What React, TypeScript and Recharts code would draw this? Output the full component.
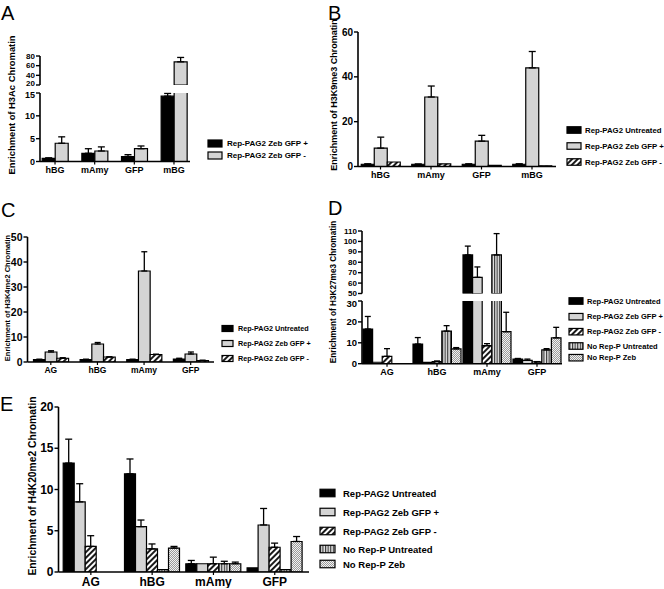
import React from "react";
import { Bar, BarChart, ErrorBar, XAxis, YAxis } from "recharts";

// Five-panel ChIP enrichment figure (A–E). Broken axes (A, D) are two stacked BarCharts sharing one x scale.

const FONT = '"Liberation Sans", Arial, Helvetica, sans-serif';

const BLACK = "#000000";
const GRAY = "#d4d4d4";
const HATCH = "url(#hatch)";
const VSTRIPE = "url(#vstripe)";
const CHECK = "url(#check)";

const SERIES_3 = ["Rep-PAG2 Untreated", "Rep-PAG2 Zeb GFP +", "Rep-PAG2 Zeb GFP -"];
const SERIES_5 = [...SERIES_3, "No Rep-P Untreated", "No Rep-P Zeb"];
const FILLS_3 = [BLACK, GRAY, HATCH];
const FILLS_5 = [BLACK, GRAY, HATCH, VSTRIPE, CHECK];

// A — H3Ac
const seriesA = ["Rep-PAG2 Zeb GFP +", "Rep-PAG2 Zeb GFP -"];
const catsA = ["hBG", "mAmy", "GFP", "mBG"];
const valsA = [
  [0.7, 1.8, 1.1, 14.3],
  [4.0, 2.3, 2.8, 68],
];
const errsA = [
  [0.1, 1.0, 0.4, 0.6],
  [1.4, 0.9, 0.6, 9],
];

// B — H3K9me3
const catsB = ["hBG", "mAmy", "GFP", "mBG"];
const valsB = [
  [1.0, 1.0, 1.0, 1.0],
  [8.2, 31, 11.3, 44],
  [2.0, 1.2, 0.5, 0.3],
];
const errsB = [
  [0.2, 0.1, 0.2, 0.2],
  [4.9, 4.9, 2.6, 7.3],
  [0, 0, 0, 0],
];

// C — H3K4me2
const catsC = ["AG", "hBG", "mAmy", "GFP"];
const valsC = [
  [1.0, 1.0, 1.0, 1.2],
  [4.0, 7.2, 36.4, 3.2],
  [1.5, 2.0, 3.0, 0.6],
];
const errsC = [
  [0.1, 0.1, 0.1, 0.3],
  [0.5, 0.6, 7.7, 0.8],
  [0.2, 0.1, 0.1, 0.1],
];

// D — H3K27me3
const catsD = ["AG", "hBG", "mAmy", "GFP"];
const valsD = [
  [16.6, 9.4, 87, 2.2],
  [0.7, 0.6, 65.5, 1.6],
  [3.5, 1.0, 8.6, 0.9],
  [0, 15.6, 87, 6.6],
  [0, 7.1, 15.3, 12.4],
];
const errsD = [
  [6.0, 3.1, 8.5, 0.3],
  [0, 0, 10, 0.6],
  [3.7, 0.3, 1.0, 0.1],
  [0, 2.6, 20.5, 0.6],
  [0, 0.6, 9.3, 5.0],
];

// E — H4K20me2
const catsE = ["AG", "hBG", "mAmy", "GFP"];
const valsE = [
  [13.2, 11.9, 1.0, 0.5],
  [8.5, 5.5, 1.0, 5.7],
  [3.1, 2.8, 1.0, 3.0],
  [0, 0.3, 1.0, 0.3],
  [0, 2.9, 1.0, 3.7],
];
const errsE = [
  [2.9, 1.8, 0.4, 0],
  [2.2, 0.8, 0, 2.0],
  [1.3, 0.6, 0.8, 0.5],
  [0, 0, 0.3, 0],
  [0, 0.2, 0.2, 0.6],
];

type Seg = {
  domain: [number, number];
  ticks: number[];
  yTop: number;
  yBottom: number;
  tickFont: number;
  // nudges edge tick labels apart at an axis break
  shift?: Record<number, number>;
};

interface PanelCfg {
  left: number;
  axisX: number;
  axisEnd: number;
  padL: number;
  padR: number;
  barSize: number;
  capHalf: number;
  catFont: number;
  xAxisH: number;
  cats: string[];
  series: string[];
  fills: string[];
  vals: number[][];
  errs: number[][];
  segs: Seg[]; // first one is the bottom segment (carries the x axis)
}

const panels: PanelCfg[] = [
  {
    left: 18, axisX: 40, axisEnd: 190, padL: -4.8, padR: -3.8, barSize: 13, capHalf: 3.5,
    catFont: 9, xAxisH: 20,
    cats: catsA, series: seriesA, fills: [BLACK, GRAY], vals: valsA, errs: errsA,
    segs: [
      { domain: [0, 15], ticks: [0, 5, 10, 15], yTop: 92.5, yBottom: 161, tickFont: 9, shift: { 15: 1.5 } },
      { domain: [20, 80], ticks: [20, 40, 60, 80], yTop: 55.5, yBottom: 84.5, tickFont: 8, shift: { 20: -1.5 } },
    ],
  },
  {
    left: 336, axisX: 358, axisEnd: 556, padL: -2.75, padR: -1.25, barSize: 13, capHalf: 3.5,
    catFont: 9, xAxisH: 20,
    cats: catsB, series: SERIES_3, fills: FILLS_3, vals: valsB, errs: errsB,
    segs: [{ domain: [0, 60], ticks: [0, 20, 40, 60], yTop: 31.5, yBottom: 166, tickFont: 10 }],
  },
  {
    left: 8, axisX: 27.5, axisEnd: 214, padL: 0, padR: 0, barSize: 11.7, capHalf: 3,
    catFont: 8.5, xAxisH: 20,
    cats: catsC, series: SERIES_3, fills: FILLS_3, vals: valsC, errs: errsC,
    segs: [{ domain: [0, 50], ticks: [0, 10, 20, 30, 40, 50], yTop: 237, yBottom: 362, tickFont: 10.5 }],
  },
  {
    left: 338, axisX: 362, axisEnd: 562, padL: 0, padR: 0, barSize: 9.6, capHalf: 3,
    catFont: 9, xAxisH: 20,
    cats: catsD, series: SERIES_5, fills: FILLS_5, vals: valsD, errs: errsD,
    segs: [
      { domain: [0, 30], ticks: [0, 10, 20, 30], yTop: 301.3, yBottom: 364, tickFont: 9.5, shift: { 30: 2.5 } },
      {
        domain: [50, 110], ticks: [50, 60, 70, 80, 90, 100, 110], yTop: 231, yBottom: 293.5,
        tickFont: 8, shift: { 50: -0.5 },
      },
    ],
  },
  {
    left: 34, axisX: 58.5, axisEnd: 309, padL: 1.7, padR: 3.6, barSize: 11, capHalf: 3.5,
    catFont: 12, xAxisH: 16,
    cats: catsE, series: SERIES_5, fills: FILLS_5, vals: valsE, errs: errsE,
    segs: [{ domain: [0, 20], ticks: [0, 5, 10, 15, 20], yTop: 407, yBottom: 572, tickFont: 12 }],
  },
];

const letters = [
  { t: "A", x: 1, y: 20 },
  { t: "B", x: 328, y: 20 },
  { t: "C", x: 1, y: 217 },
  { t: "D", x: 328, y: 215 },
  { t: "E", x: 0, y: 411 },
];

const titles = [
  { t: "Enrichment of H3Ac Chromatin", x: 11.5, y: 105, size: 9.4 },
  { t: "Enrichment of H3K9me3 Chromatin", x: 334, y: 95, size: 9 },
  { t: "Enrichment of H3K4me2 Chromatin", x: 7, y: 298, size: 7.5 },
  { t: "Enrichment of H3K27me3 Chromatin", x: 333.5, y: 292, size: 8.2 },
  { t: "Enrichment of H4K20me2 Chromatin", x: 32, y: 486, size: 10.3 },
];

const legends = [
  { x: 208, w: 14, h: 7, tx: 227, size: 8, rows: [143.5, 155.5], names: seriesA, fills: [BLACK, GRAY] },
  { x: 567, w: 14, h: 6.5, tx: 585, size: 7.8, rows: [130, 146, 162], names: SERIES_3, fills: FILLS_3 },
  { x: 222, w: 11, h: 6, tx: 238, size: 7.2, rows: [328.5, 343.5, 358.5], names: SERIES_3, fills: FILLS_3 },
  { x: 569, w: 14, h: 6.5, tx: 587, size: 7.5, rows: [301, 316.7, 331.7, 346, 357.7], names: SERIES_5, fills: FILLS_5 },
  { x: 320, w: 15, h: 7.5, tx: 343, size: 9.5, rows: [493, 512, 531, 549, 564], names: SERIES_5, fills: FILLS_5 },
];

// Per-segment rows: the bottom segment keeps every value (tall bars get clipped), upper segments only
// keep bars that actually reach them. Error caps only where the bar top is visible.
function segRows(p: PanelCfg, seg: Seg, bottom: boolean) {
  const [lo, hi] = seg.domain;
  return p.cats.map((cat, c) => {
    const row: Record<string, unknown> = { cat };
    p.vals.forEach((sv, s) => {
      const v = sv[c];
      const e = p.errs[s][c];
      if (bottom) {
        row[`v${s}`] = v;
        row[`e${s}`] = v <= hi && e > 0 ? [0, e] : undefined;
      } else if (v > lo) {
        row[`v${s}`] = v;
        row[`e${s}`] = e > 0 ? [0, e] : undefined;
      } else {
        row[`v${s}`] = null;
        row[`e${s}`] = undefined;
      }
    });
    return row;
  });
}

const yTick = (seg: Seg) => (props: any) => {
  const { x, y, payload } = props;
  const dy = seg.shift?.[payload.value] ?? 0;
  return (
    <text
      x={x}
      y={y + dy}
      textAnchor="end"
      dominantBaseline="central"
      fontSize={seg.tickFont}
      fontWeight={700}
      fontFamily={FONT}
      fill="#000"
    >
      {payload.value}
    </text>
  );
};

const Segment: React.FC<{ p: PanelCfg; seg: Seg; bottom: boolean }> = ({ p, seg, bottom }) => {
  const mTop = 8;
  const mBottom = bottom ? 0 : 8;
  const xH = bottom ? p.xAxisH : 0;
  const height = mTop + (seg.yBottom - seg.yTop) + mBottom + xH;
  const width = p.axisEnd - p.left + 4;
  return (
    <div style={{ position: "absolute", left: p.left, top: seg.yTop - mTop }}>
      <BarChart
        width={width}
        height={height}
        data={segRows(p, seg, bottom)}
        margin={{ top: mTop, right: 4, bottom: mBottom, left: 0 }}
        barGap={0}
        barSize={p.barSize}
      >
        <XAxis
          dataKey="cat"
          hide={!bottom}
          height={xH}
          interval={0}
          padding={{ left: p.padL, right: p.padR }}
          tickSize={3}
          tickLine={{ stroke: "#000", strokeWidth: 1.2 }}
          axisLine={{ stroke: "#000", strokeWidth: 1.6 }}
          tick={{ fill: "#000", fontWeight: 700, fontFamily: FONT, fontSize: p.catFont }}
        />
        <YAxis
          type="number"
          domain={seg.domain}
          ticks={seg.ticks}
          allowDataOverflow
          interval={0}
          width={p.axisX - p.left}
          tickSize={4}
          tickMargin={1}
          tickLine={{ stroke: "#000", strokeWidth: 1.4 }}
          axisLine={{ stroke: "#000", strokeWidth: 1.6 }}
          tick={yTick(seg)}
        />
        {p.series.map((name, s) => (
          <Bar
            key={name}
            dataKey={`v${s}`}
            name={name}
            fill={p.fills[s]}
            stroke="#000"
            strokeWidth={1.2}
            isAnimationActive={false}
          >
            <ErrorBar
              dataKey={`e${s}`}
              width={p.capHalf}
              stroke="#000"
              strokeWidth={1.3}
              direction="y"
              isAnimationActive={false}
            />
          </Bar>
        ))}
      </BarChart>
    </div>
  );
};

export default function App() {
  return (
    <div
      style={{
        position: "absolute",
        left: 0,
        top: 0,
        width: 664,
        height: 589,
        overflow: "hidden",
        background: "#fff",
        fontFamily: FONT,
      }}
    >
      {panels.map((p, i) =>
        p.segs.map((seg, k) => <Segment key={`${i}-${k}`} p={p} seg={seg} bottom={k === 0} />)
      )}
      <svg
        width={664}
        height={589}
        style={{ position: "absolute", left: 0, top: 0, pointerEvents: "none" }}
      >
        <defs>
          <pattern id="hatch" width="4" height="4" patternUnits="userSpaceOnUse" patternTransform="rotate(45)">
            <rect width="4" height="4" fill="#fff" />
            <line x1="1" y1="0" x2="1" y2="4" stroke="#000" strokeWidth="1.8" />
          </pattern>
          <pattern id="vstripe" width="2.6" height="4" patternUnits="userSpaceOnUse">
            <rect width="2.6" height="4" fill="#e4e4e4" />
            <line x1="0.6" y1="0" x2="0.6" y2="4" stroke="#222" strokeWidth="1" />
          </pattern>
          <pattern id="check" width="2" height="2" patternUnits="userSpaceOnUse">
            <rect width="2" height="2" fill="#f2f2f2" />
            <rect width="1" height="1" fill="#9a9a9a" />
            <rect x="1" y="1" width="1" height="1" fill="#9a9a9a" />
          </pattern>
        </defs>
        {letters.map((l) => (
          <text key={l.t} x={l.x} y={l.y} fontSize={20} fontFamily={FONT} fill="#000">
            {l.t}
          </text>
        ))}
        {titles.map((t) => (
          <text
            key={t.t}
            transform={`translate(${t.x},${t.y}) rotate(-90)`}
            textAnchor="middle"
            dominantBaseline="central"
            fontSize={t.size}
            fontWeight={700}
            fontFamily={FONT}
            fill="#000"
          >
            {t.t}
          </text>
        ))}
        {legends.map((lg, i) =>
          lg.names.map((name, r) => (
            <g key={`${i}-${r}`}>
              <rect
                x={lg.x}
                y={lg.rows[r] - lg.h / 2}
                width={lg.w}
                height={lg.h}
                fill={lg.fills[r]}
                stroke="#000"
                strokeWidth={1.2}
              />
              <text
                x={lg.tx}
                y={lg.rows[r]}
                dominantBaseline="central"
                fontSize={lg.size}
                fontWeight={700}
                fontFamily={FONT}
                fill="#000"
              >
                {name}
              </text>
            </g>
          ))
        )}
      </svg>
    </div>
  );
}
